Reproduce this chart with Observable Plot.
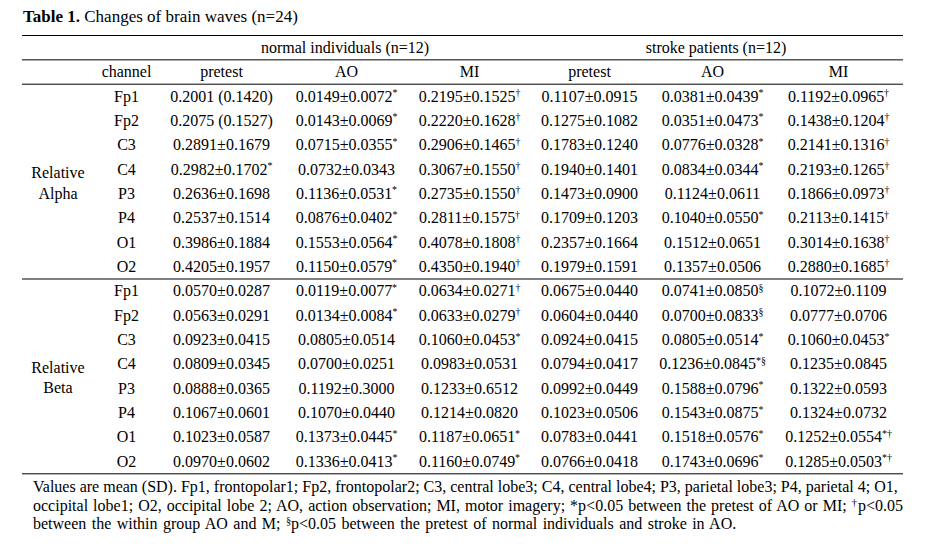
<!DOCTYPE html>
<html><head><meta charset="utf-8">
<script src="https://cdn.jsdelivr.net/npm/d3@7"></script>
<script src="https://cdn.jsdelivr.net/npm/@observablehq/plot@0.6"></script>
<style>
body{margin:0;background:#fff;font-family:"Liberation Serif","Times New Roman",serif;color:#000;}
#title{height:30px;box-sizing:border-box;padding:6px 0 0 23px;font-size:17px;line-height:22px;}
#chart svg{display:block;font-family:"Liberation Serif","Times New Roman",serif;}
#caption{width:870px;margin-left:33px;font-size:16px;line-height:18.5px;padding-top:2px;}
#caption .n{white-space:nowrap;}
#caption .w{white-space:nowrap;word-spacing:1.4px;}
#caption .j{text-align:justify;text-align-last:justify;}
#caption sup{font-size:0.65em;line-height:0;vertical-align:0.45em;}
</style></head><body>
<div id="title"><b>Table 1.</b> Changes of brain waves (n=24)</div>
<div id="chart"></div>
<div id="caption">
<div class="n">Values are mean (SD). Fp1, frontopolar1; Fp2, frontopolar2; C3, central lobe3; C4, central lobe4; P3, parietal lobe3; P4, parietal 4; O1,</div>
<div class="j">occipital lobe1; O2, occipital lobe 2; AO, action observation; MI, motor imagery; *p&lt;0.05 between the pretest of AO or MI; <sup>†</sup>p&lt;0.05</div>
<div class="w">between the within group AO and M; <sup>§</sup>p&lt;0.05 between the pretest of normal individuals and stroke in AO.</div>
</div>
<script>
// ---- data ----
const bands = ["Relative\nAlpha", "Relative\nBeta"];
const channels = ["Fp1", "Fp2", "C3", "C4", "P3", "P4", "O1", "O2"];
const groups = ["normal individuals (n=12)", "stroke patients (n=12)"];
const conditions = ["pretest", "AO", "MI"];
const channelHeader = "channel";

const alphaNormal = [
  ["0.2001 (0.1420)", "0.0149±0.0072*", "0.2195±0.1525†"],
  ["0.2075 (0.1527)", "0.0143±0.0069*", "0.2220±0.1628†"],
  ["0.2891±0.1679", "0.0715±0.0355*", "0.2906±0.1465†"],
  ["0.2982±0.1702*", "0.0732±0.0343", "0.3067±0.1550†"],
  ["0.2636±0.1698", "0.1136±0.0531*", "0.2735±0.1550†"],
  ["0.2537±0.1514", "0.0876±0.0402*", "0.2811±0.1575†"],
  ["0.3986±0.1884", "0.1553±0.0564*", "0.4078±0.1808†"],
  ["0.4205±0.1957", "0.1150±0.0579*", "0.4350±0.1940†"]
];
const alphaStroke = [
  ["0.1107±0.0915", "0.0381±0.0439*", "0.1192±0.0965†"],
  ["0.1275±0.1082", "0.0351±0.0473*", "0.1438±0.1204†"],
  ["0.1783±0.1240", "0.0776±0.0328*", "0.2141±0.1316†"],
  ["0.1940±0.1401", "0.0834±0.0344*", "0.2193±0.1265†"],
  ["0.1473±0.0900", "0.1124±0.0611", "0.1866±0.0973†"],
  ["0.1709±0.1203", "0.1040±0.0550*", "0.2113±0.1415†"],
  ["0.2357±0.1664", "0.1512±0.0651", "0.3014±0.1638†"],
  ["0.1979±0.1591", "0.1357±0.0506", "0.2880±0.1685†"]
];
const betaNormal = [
  ["0.0570±0.0287", "0.0119±0.0077*", "0.0634±0.0271†"],
  ["0.0563±0.0291", "0.0134±0.0084*", "0.0633±0.0279†"],
  ["0.0923±0.0415", "0.0805±0.0514", "0.1060±0.0453*"],
  ["0.0809±0.0345", "0.0700±0.0251", "0.0983±0.0531"],
  ["0.0888±0.0365", "0.1192±0.3000", "0.1233±0.6512"],
  ["0.1067±0.0601", "0.1070±0.0440", "0.1214±0.0820"],
  ["0.1023±0.0587", "0.1373±0.0445*", "0.1187±0.0651*"],
  ["0.0970±0.0602", "0.1336±0.0413*", "0.1160±0.0749*"]
];
const betaStroke = [
  ["0.0675±0.0440", "0.0741±0.0850§", "0.1072±0.1109"],
  ["0.0604±0.0440", "0.0700±0.0833§", "0.0777±0.0706"],
  ["0.0924±0.0415", "0.0805±0.0514*", "0.1060±0.0453*"],
  ["0.0794±0.0417", "0.1236±0.0845*§", "0.1235±0.0845"],
  ["0.0992±0.0449", "0.1588±0.0796*", "0.1322±0.0593"],
  ["0.1023±0.0506", "0.1543±0.0875*", "0.1324±0.0732"],
  ["0.0783±0.0441", "0.1518±0.0576*", "0.1252±0.0554*†"],
  ["0.0766±0.0418", "0.1743±0.0696*", "0.1285±0.0503*†"]
];

// ---- layout (table structure) ----
const bandValues = [[alphaNormal, alphaStroke], [betaNormal, betaStroke]];
const colKeys = ["band", "channel", "0-0", "0-1", "0-2", "1-0", "1-1", "1-2", "g0", "g1"];
const colCenters = [57.5, 126, 221, 346, 469, 589, 712, 838, 344.5, 715.5];
const headerRows = 2;
const nRows = headerRows + bands.length * channels.length;

const cells = [];
groups.forEach((g, gi) => cells.push({row: 0.5, col: "g" + gi, text: g}));
cells.push({row: 1.5, col: "channel", text: channelHeader});
groups.forEach((g, gi) => conditions.forEach((c, ci) => cells.push({row: 1.5, col: `${gi}-${ci}`, text: c})));
const bandLabels = [];
bands.forEach((b, bi) => {
  const start = headerRows + bi * channels.length;
  bandLabels.push({row: start + channels.length / 2, col: "band", text: b});
  channels.forEach((ch, i) => {
    cells.push({row: start + i + 0.5, col: "channel", text: ch});
    bandValues[bi].forEach((grp, gi) => grp[i].forEach((v, ci) => cells.push({row: start + i + 0.5, col: `${gi}-${ci}`, text: v})));
  });
});
const rules = [0, 1, headerRows, ...bands.map((b, bi) => headerRows + (bi + 1) * channels.length)];

const chart = Plot.plot({
  width: 940,
  height: 446,
  marginLeft: 22,
  marginRight: 37,
  marginTop: 5,
  marginBottom: 2,
  x: {type: "ordinal", domain: colKeys, range: colCenters, axis: null},
  y: {domain: [0, nRows], range: [5, 443.3], axis: null},
  style: {fontFamily: "'Liberation Serif','Times New Roman',serif", color: "#000"},
  marks: [
    Plot.ruleY(rules, {y: d => d, stroke: "#000", strokeWidth: 1}),
    Plot.text(cells, {x: "col", y: "row", text: "text", fontSize: 16, fill: "#000", className: "cells"}),
    Plot.text(bandLabels, {x: "col", y: "row", text: "text", fontSize: 16, fill: "#000", lineHeight: 1.3})
  ]
});
document.getElementById("chart").appendChild(chart);

// superscript markers (*, †, §) rendered as raised small text
d3.select(chart).selectAll("g.cells text").each(function () {
  const s = this.textContent;
  const m = s.match(/^(.*?)([*†§]+)$/);
  if (!m) return;
  this.textContent = m[1];
  d3.select(this).append("tspan").attr("font-size", "0.62em").attr("dy", "-0.55em").text(m[2]);
});
</script>
</body></html>
